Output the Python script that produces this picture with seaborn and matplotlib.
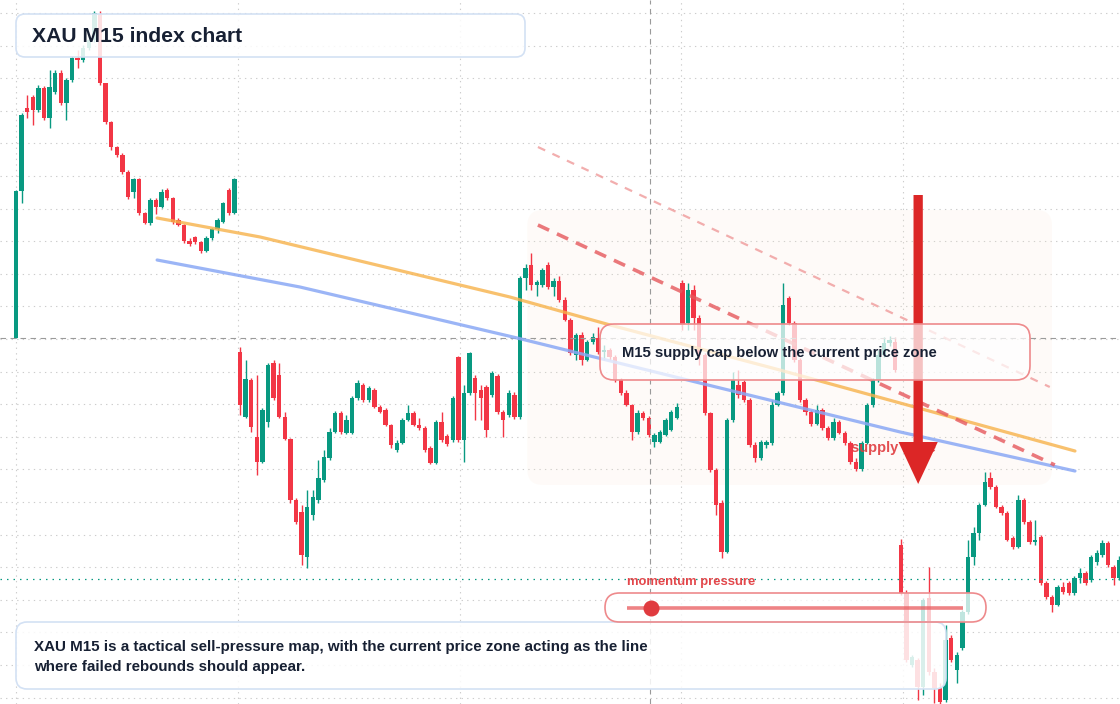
import matplotlib
matplotlib.use('Agg')
import matplotlib.pyplot as plt
from matplotlib.patches import FancyBboxPatch, Rectangle
import numpy as np
import pandas as pd
import seaborn as sns

sns.set_theme(style='white')
plt.rcParams['font.family'] = ['Liberation Sans', 'DejaVu Sans']

# XAU M15 bars
opens = [2366.2, 2380.9, 2389.2, 2390.3, 2389.0, 2391.2, 2388.2, 2390.8, 2392.7, 2389.7,
         2392.0, 2394.2, 2394.0, 2395.2, 2396.0, 2398.6, 2391.7, 2387.8, 2385.3, 2384.5,
         2382.8, 2380.8, 2382.1, 2378.7, 2377.7, 2380.0, 2379.3, 2381.0, 2380.2, 2378.0,
         2377.5, 2375.9, 2376.3, 2375.8, 2374.9, 2376.2, 2377.1, 2377.8, 2381.0, 2378.7,
         2364.8, 2358.3, 2362.0, 2356.3, 2353.8, 2357.8, 2363.7, 2362.5, 2358.3, 2356.1,
         2350.0, 2348.8, 2344.3, 2348.5, 2350.0, 2352.0, 2354.2, 2356.8, 2358.7, 2356.7,
         2356.7, 2360.2, 2361.5, 2360.0, 2361.0, 2359.3, 2359.0, 2357.5, 2355.0, 2355.7,
         2358.0, 2358.7, 2357.5, 2357.2, 2355.2, 2353.7, 2357.8, 2356.4, 2356.0, 2364.3,
         2356.0, 2360.7, 2362.2, 2361.0, 2361.3, 2360.5, 2362.4, 2358.8, 2358.5, 2360.5,
         2358.3, 2372.2, 2373.5, 2371.5, 2371.5, 2373.5, 2371.3, 2371.9, 2370.0, 2368.0,
         2364.5, 2366.5, 2364.0, 2365.8, 2366.2, 2364.8, 2365.0, 2364.3, 2362.0, 2360.7,
         2359.5, 2356.8, 2358.7, 2358.2, 2355.8, 2355.8, 2356.5, 2357.0, 2358.2, 2371.7,
         2367.7, 2371.0, 2368.2, 2364.5, 2358.7, 2353.0, 2349.7, 2344.8, 2358.0, 2361.5,
         2361.8, 2360.0, 2355.5, 2354.2, 2355.5, 2355.7, 2359.5, 2360.7, 2370.2, 2367.7,
         2364.0, 2360.0, 2358.8, 2357.6, 2359.0, 2357.2, 2356.2, 2357.8, 2356.7, 2355.7,
         2353.8, 2353.1, 2355.7, 2359.5, 2362.0, 2364.5, 2365.7, 2365.8,
         2345.5, 2340.7, 2333.5, 2334.0, 2331.3, 2340.2, 2332.8, 2331.2, 2330.0, 2336.2,
         2333.0, 2335.2, 2338.8, 2344.3, 2346.7, 2349.5, 2352.2, 2351.3, 2349.3, 2348.7,
         2346.2, 2345.3, 2350.0, 2347.8, 2345.8, 2346.3, 2341.7, 2340.3, 2339.5, 2341.3,
         2341.7, 2340.7, 2342.2, 2342.7, 2342.0, 2343.8, 2344.5, 2345.7, 2343.3, 2342.2]

highs = [2381.0, 2388.7, 2390.5, 2390.5, 2391.5, 2391.4, 2393.0, 2393.0, 2393.0, 2392.2,
         2394.4, 2395.0, 2395.5, 2396.5, 2398.9, 2398.9, 2391.7, 2387.9, 2385.4, 2384.7,
         2383.0, 2382.2, 2382.2, 2378.8, 2380.2, 2380.2, 2381.1, 2381.2, 2380.3, 2378.2,
         2377.6, 2376.2, 2376.4, 2375.9, 2376.4, 2377.2, 2378.2, 2379.8, 2381.2, 2382.2,
         2365.3, 2364.0, 2362.2, 2362.5, 2359.2, 2363.7, 2364.0, 2363.7, 2358.8, 2356.2,
         2350.2, 2349.5, 2351.0, 2351.0, 2354.0, 2355.0, 2357.2, 2358.9, 2358.9, 2358.5,
         2360.4, 2362.0, 2361.7, 2361.4, 2361.2, 2359.5, 2359.2, 2357.6, 2356.0, 2358.2,
         2359.5, 2358.9, 2358.2, 2357.4, 2355.4, 2358.0, 2358.8, 2356.6, 2360.4, 2364.4,
         2361.5, 2364.8, 2362.5, 2361.5, 2361.5, 2362.9, 2362.6, 2359.0, 2361.0, 2360.8,
         2372.4, 2373.6, 2374.7, 2372.0, 2373.2, 2373.8, 2372.2, 2372.4, 2370.3, 2368.2,
         2366.7, 2366.8, 2366.0, 2366.7, 2367.3, 2365.5, 2365.2, 2364.5, 2362.2, 2361.0,
         2359.6, 2359.0, 2358.9, 2358.4, 2356.7, 2357.0, 2358.2, 2359.0, 2359.7, 2372.0,
         2371.7, 2371.5, 2368.5, 2364.7, 2358.8, 2353.2, 2350.0, 2358.2, 2362.8, 2363.0,
         2362.0, 2360.2, 2355.8, 2356.0, 2356.0, 2360.0, 2360.9, 2371.7, 2370.4, 2367.9,
         2364.2, 2360.2, 2359.0, 2359.5, 2359.2, 2357.4, 2358.2, 2358.0, 2356.9, 2355.9,
         2354.2, 2355.9, 2359.7, 2362.2, 2365.0, 2366.3, 2366.4, 2366.3,
         2346.1, 2341.0, 2334.5, 2334.2, 2340.2, 2343.3, 2333.2, 2331.7, 2337.5, 2336.5,
         2334.8, 2339.0, 2346.0, 2347.3, 2349.7, 2352.8, 2352.8, 2351.5, 2349.5, 2348.9,
         2346.4, 2350.5, 2350.2, 2348.0, 2348.0, 2346.5, 2341.9, 2340.5, 2341.5, 2341.8,
         2341.9, 2342.4, 2343.2, 2342.9, 2344.5, 2345.0, 2346.0, 2345.9, 2343.5, 2344.4]

lows = [2366.2, 2379.7, 2388.2, 2387.5, 2388.8, 2388.0, 2387.2, 2390.6, 2389.5, 2388.0,
        2391.8, 2393.2, 2393.8, 2395.0, 2395.8, 2391.5, 2387.6, 2385.0, 2384.3, 2382.6,
        2380.1, 2380.2, 2378.5, 2377.6, 2377.5, 2378.6, 2379.2, 2380.0, 2377.6, 2377.4,
        2375.7, 2375.4, 2375.6, 2374.7, 2374.8, 2376.0, 2376.7, 2377.7, 2378.5, 2378.6,
        2358.5, 2358.2, 2356.8, 2352.5, 2353.7, 2357.3, 2360.0, 2358.2, 2356.0, 2349.7,
        2347.6, 2343.5, 2343.2, 2348.0, 2349.7, 2351.8, 2354.0, 2356.7, 2356.6, 2356.6,
        2356.6, 2360.0, 2359.8, 2359.8, 2359.2, 2358.7, 2357.4, 2355.2, 2354.8, 2355.6,
        2357.9, 2357.4, 2357.0, 2354.8, 2353.6, 2353.6, 2355.8, 2355.4, 2355.8, 2355.8,
        2353.8, 2360.5, 2358.0, 2358.0, 2356.3, 2360.3, 2358.6, 2356.3, 2358.3, 2358.1,
        2358.1, 2371.0, 2371.0, 2370.4, 2371.3, 2371.1, 2370.4, 2369.8, 2367.9, 2364.5,
        2364.0, 2363.5, 2363.9, 2365.6, 2364.6, 2364.0, 2364.0, 2361.8, 2360.5, 2359.4,
        2356.0, 2356.6, 2358.0, 2356.3, 2355.3, 2355.7, 2356.4, 2356.9, 2358.1, 2367.0,
        2367.0, 2367.0, 2363.5, 2358.5, 2352.8, 2348.5, 2344.2, 2344.7, 2357.8, 2360.2,
        2359.8, 2355.3, 2353.8, 2354.0, 2355.2, 2355.5, 2359.4, 2360.5, 2367.5, 2363.8,
        2359.8, 2358.5, 2357.4, 2357.5, 2357.0, 2356.0, 2356.0, 2356.6, 2355.5, 2353.6,
        2352.9, 2352.9, 2355.6, 2359.3, 2361.8, 2364.3, 2365.4, 2362.8,
        2340.5, 2333.8, 2333.3, 2330.0, 2330.5, 2332.5, 2329.7, 2329.6, 2329.8, 2333.8,
        2331.7, 2335.0, 2338.6, 2343.5, 2346.0, 2349.4, 2351.1, 2349.2, 2348.5, 2345.9,
        2345.1, 2345.2, 2347.6, 2345.6, 2345.5, 2341.5, 2340.1, 2338.8, 2339.4, 2340.6,
        2340.5, 2340.5, 2341.7, 2341.5, 2341.8, 2343.5, 2344.3, 2343.3, 2341.5, 2342.0]

closes = [2380.9, 2388.5, 2388.8, 2389.0, 2391.2, 2388.2, 2391.3, 2392.7, 2389.7, 2392.0,
          2394.2, 2394.0, 2395.2, 2396.0, 2398.7, 2391.7, 2387.8, 2385.3, 2384.5, 2382.8,
          2380.3, 2382.1, 2378.7, 2377.7, 2380.0, 2379.3, 2380.8, 2380.2, 2377.8, 2377.5,
          2375.9, 2375.6, 2375.8, 2374.9, 2376.2, 2377.1, 2378.0, 2379.7, 2378.7, 2382.1,
          2359.5, 2362.1, 2357.3, 2353.8, 2359.0, 2363.5, 2360.2, 2358.3, 2356.1, 2350.0,
          2347.8, 2344.5, 2349.3, 2350.3, 2352.2, 2354.3, 2356.8, 2358.7, 2356.8, 2358.0,
          2360.2, 2361.7, 2360.0, 2361.2, 2359.3, 2358.8, 2357.5, 2355.5, 2355.7, 2358.0,
          2358.7, 2357.5, 2357.2, 2355.0, 2353.7, 2357.8, 2356.0, 2355.6, 2360.2, 2356.0,
          2360.7, 2364.7, 2360.7, 2360.2, 2357.0, 2362.7, 2358.8, 2358.0, 2360.7, 2358.3,
          2372.2, 2373.2, 2371.5, 2371.8, 2373.0, 2371.3, 2371.9, 2370.0, 2368.0, 2364.7,
          2366.5, 2364.0, 2365.8, 2366.3, 2364.8, 2365.0, 2364.3, 2362.0, 2360.7, 2359.5,
          2356.8, 2358.7, 2358.2, 2356.5, 2356.5, 2356.8, 2358.0, 2358.8, 2359.3, 2367.5,
          2371.0, 2368.2, 2364.5, 2358.7, 2353.0, 2349.5, 2344.8, 2358.0, 2362.0, 2360.5,
          2360.0, 2355.5, 2354.2, 2355.8, 2355.8, 2359.5, 2360.7, 2369.5, 2367.7, 2364.0,
          2360.0, 2358.8, 2357.6, 2359.0, 2357.2, 2356.2, 2357.8, 2356.7, 2355.7, 2353.8,
          2353.1, 2355.7, 2359.5, 2362.0, 2364.5, 2365.7, 2366.0, 2363.0,
          2340.7, 2334.0, 2334.3, 2331.3, 2340.0, 2332.8, 2331.2, 2329.8, 2336.0, 2334.0,
          2334.5, 2338.8, 2344.3, 2346.7, 2349.5, 2351.8, 2351.3, 2349.3, 2348.7, 2346.0,
          2345.3, 2350.0, 2347.8, 2345.8, 2346.0, 2341.7, 2340.3, 2339.5, 2341.3, 2340.8,
          2340.7, 2342.2, 2342.7, 2341.7, 2344.3, 2344.7, 2345.7, 2343.5, 2342.2, 2344.0]

# reference levels
current_price = 2366.2
last_price = 2342.1
cursor_bar = 113.2

# overlays (bar index, price)
ema_fast_x = [25.2, 43.6, 88.2, 106.1, 136.4, 189.1]
ema_fast_y = [2378.2, 2376.3, 2370.3, 2367.5, 2363.0, 2354.9]
ema_slow_x = [25.2, 50.7, 89.5, 122.1, 157.9, 189.1]
ema_slow_y = [2374.0, 2371.3, 2366.2, 2361.7, 2356.8, 2352.9]
cap_x = [93.2, 185.5]
cap_y = [2377.5, 2353.5]
upper_x = [93.2, 184.6]
upper_y = [2385.3, 2361.3]
zone_bars = [91.3, 185.0]
zone_prices = [2351.5, 2379.0]
arrow_bar = 161.1
arrow_from, arrow_to = 2380.5, 2351.6
momentum_level = 0.07

GREEN = '#089981'
RED = '#f23645'

df = pd.DataFrame({'open': opens, 'high': highs, 'low': lows, 'close': closes})
df['bar'] = np.arange(len(df))
df['up'] = df['close'] >= df['open']

fig = plt.figure(figsize=(11.2, 7.04), dpi=100)
ax = fig.add_axes([0, 0, 1, 1])
ax.set_facecolor('white')
fig.patches.append(Rectangle((10 / 1120, 0), 4 / 1120, 1, transform=fig.transFigure,
                             color='#ebebeb', zorder=-1))


def px_box(x0, y0, x1, y1, r, **kw):
    p = FancyBboxPatch((x0 / 100, (704 - y1) / 100), (x1 - x0) / 100, (y1 - y0) / 100,
                       boxstyle=f'round,pad=0,rounding_size={r / 100}',
                       transform=fig.dpi_scale_trans, **kw)
    ax.add_patch(p)


def px_text(x, y, s, **kw):
    ax.text(x / 100, (704 - y) / 100, s, transform=fig.dpi_scale_trans, **kw)


# grid
ax.set_xlim(-2.857, 197.143)
ax.set_ylim(2329.6, 2400)
ax.set_xticks(np.arange(0, 197, 39.6))
ax.set_yticks(np.arange(2398.7, 2329.6, -3.26))
ax.grid(True, color='#cccccc', lw=0.8, linestyle=(0, (1.2, 3.8)), zorder=0)
ax.tick_params(labelleft=False, labelbottom=False, length=0)
for s in ax.spines.values():
    s.set_visible(False)

# supply zone
zone = FancyBboxPatch((zone_bars[0], zone_prices[0]), zone_bars[1] - zone_bars[0],
                      zone_prices[1] - zone_prices[0],
                      boxstyle='round,pad=0,rounding_size=2.8', mutation_aspect=0.56,
                      facecolor='#fbe6d4', edgecolor='none', alpha=0.16, zorder=1)
ax.add_patch(zone)

# candles
colors = np.where(df['up'], GREEN, RED)
ax.vlines(df['bar'], df['low'], df['high'], colors=colors, lw=1.0, zorder=3)
body = np.maximum((df['close'] - df['open']).abs(), 0.12)
ax.bar(df['bar'], body, bottom=df[['open', 'close']].min(axis=1), width=0.76,
       color=colors, linewidth=0, zorder=3.1)

# cross-hair and last price
ax.axhline(current_price, color='#9a9a9a', lw=0.8, linestyle=(0, (5, 4)), zorder=3.5)
ax.axvline(cursor_bar, color='#9a9a9a', lw=0.8, linestyle=(0, (5, 4)), zorder=3.5)
ax.axhline(last_price, color=GREEN, lw=0.9, linestyle=(0, (1.2, 4)), zorder=3.5)

# averages and supply cap lines
sns.lineplot(x=ema_fast_x, y=ema_fast_y, ax=ax, color='#f7b24a', lw=2.3, alpha=0.8, zorder=4)
sns.lineplot(x=ema_slow_x, y=ema_slow_y, ax=ax, color='#8aa8f5', lw=2.3, alpha=0.85, zorder=4)
ax.plot(cap_x, cap_y, color='#e6585c', lw=2.6, alpha=0.8, linestyle=(0, (3.4, 2.4)), zorder=4)
ax.plot(upper_x, upper_y, color='#ef9a9a', lw=1.6, alpha=0.8, linestyle=(0, (3.6, 3.6)), zorder=4)

px_text(851, 448, 'supply zone', fontsize=10.5, fontweight='bold', color='#e03b3f',
        alpha=0.9, va='center', ha='left', zorder=5)
ax.arrow(arrow_bar, arrow_from, 0, arrow_to - arrow_from, width=1.66, head_width=7.0,
         head_length=4.2, length_includes_head=True, color='#dc2626', lw=0, zorder=6)

# annotation boxes
px_box(600, 324, 1030, 380, 14, facecolor='white', alpha=0.72, edgecolor='none', zorder=7)
px_box(600, 324, 1030, 380, 14, facecolor='none', edgecolor='#ee8a8c', lw=1.2, zorder=7.1)
px_text(622, 353, 'M15 supply cap below the current price zone', fontsize=10.7,
        fontweight='bold', color='#172033', va='center', zorder=8)

px_box(16, 14, 525, 57, 9, facecolor='white', alpha=0.85, edgecolor='none', zorder=7)
px_box(16, 14, 525, 57, 9, facecolor='none', edgecolor='#d3e1f4', lw=1.2, zorder=7.1)
px_text(32, 36, 'XAU M15 index chart', fontsize=15.2, fontweight='bold', color='#172033',
        va='center', zorder=8)

px_box(16, 622, 946, 689, 11, facecolor='white', alpha=0.85, edgecolor='none', zorder=7)
px_box(16, 622, 946, 689, 11, facecolor='none', edgecolor='#d3e1f4', lw=1.2, zorder=7.1)
px_text(34, 647, 'XAU M15 is a tactical sell-pressure map, with the current price zone acting as the line',
        fontsize=10.9, fontweight='bold', color='#172033', va='center', zorder=8)
px_text(34, 667, 'where failed rebounds should appear.', fontsize=10.9, fontweight='bold',
        color='#172033', va='center', zorder=8)

# momentum gauge
px_box(605, 593, 986, 622, 14.5, facecolor='white', alpha=0.75, edgecolor='none', zorder=7)
px_box(605, 593, 986, 622, 14.5, facecolor='none', edgecolor='#ee8a8c', lw=1.2, zorder=7.1)
ax.plot([6.27, 9.63], [(704 - 608) / 100] * 2, transform=fig.dpi_scale_trans,
        color='#e9595c', alpha=0.75, lw=2.6, solid_capstyle='butt', zorder=8)
dot_x = 627 + momentum_level * (963 - 627) + 0.5
ax.plot([(dot_x) / 100], [(704 - 608) / 100], 'o', transform=fig.dpi_scale_trans,
        color='#e03b3f', markersize=10.5, zorder=8.5)
px_text(627, 582, 'momentum pressure', fontsize=9.4, fontweight='bold', color='#e3474b',
        va='center', zorder=8)

fig.savefig('out.png', dpi=100)
